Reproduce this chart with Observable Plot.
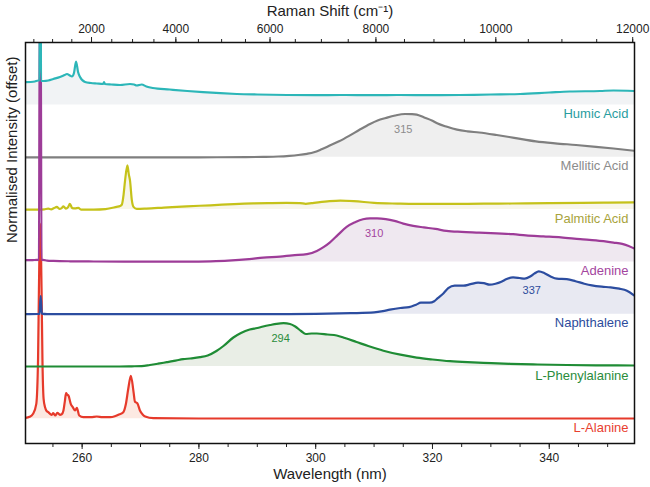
<!DOCTYPE html>
<html><head><meta charset="utf-8">
<script src="https://cdn.jsdelivr.net/npm/d3@7"></script>
<script src="https://cdn.jsdelivr.net/npm/@observablehq/plot@0.6"></script>
<style>
body{margin:0;background:#fff;}
#chart{width:650px;height:487px;}
</style></head><body><div id="chart"></div>
<script>
// ---------- data (wavelength nm, intensity a.u.) ----------
const LASER_NM = 248.6;
const seriesNames = ["L-Alanine","L-Phenylalanine","Naphthalene","Adenine","Palmitic Acid","Mellitic Acid","Humic Acid"];
const lineColors  = ["#e63a2b","#1f8c35","#2c4da0","#9d3c98","#c5c21a","#7f7f7f","#2cb6b8"];
const fillColors  = ["#fce9e2","#e9eee6","#e8e9f2","#efe8f0","#f8f6ea","#efefef","#f1f3f5"];
const labelColors = ["#e8402f","#2a8c3b","#2d4c9c","#a3459e","#a8a33c","#8c8c8c","#2a9d9f"];

const alanine = [[250.3,1],[251,2],[251.6,5],[252.15,15],[252.45,60],[252.6,130],[252.82,195],[253.05,130],[253.2,60],[253.4,20],[253.65,11.6],[253.9,8],[254.2,6.6],[254.5,5],[254.8,4],[255.05,5.6],[255.4,3.3],[255.75,6],[256.2,4],[256.5,4.5],[256.8,8.3],[257.05,18],[257.25,25.6],[257.45,24],[257.65,23.3],[258.05,15],[258.4,11.6],[258.8,8.3],[259.1,11],[259.5,3.3],[260.2,1.6],[261.5,1.6],[262.5,2.3],[263.5,1.6],[264.8,1.6],[265.6,2.5],[266.2,4],[267.05,6.6],[267.5,15],[267.9,30],[268.35,43],[268.8,27],[269.05,17],[269.45,15.6],[269.9,8.3],[270.4,4],[270.8,2.3],[272.2,0.6],[280,0.3],[300,0.3],[320,0.3],[340,0.3],[354.6,0.3]];

const phenylalanine = [[250.3,0],[260,0],[266,0],[268.5,0.2],[270.2,0.4],[271.6,1.5],[273,2.8],[274.5,4.3],[275.5,5.3],[276.5,6.5],[277.3,7.3],[278.5,8],[280.2,9.3],[281.5,11],[283,15.5],[284.2,20.5],[285.9,29],[287.2,33.5],[288.7,37],[290,38.5],[291,40],[292.2,41.5],[293.3,42.7],[294.5,43.3],[295.6,42.5],[296.5,40],[297.5,35.5],[298.3,32.5],[299.3,33],[300.2,33],[302,32],[303.6,31],[305,28.5],[307,24.5],[309,20.5],[311.6,15.8],[314.5,11.8],[317.3,8.9],[320,7],[323,5.3],[326,4.3],[328.7,3.7],[333.3,2.7],[338,2],[343,1.5],[348,1.2],[354.6,1]];

const naphthalene = [[250.3,0],[252.5,0.2],[252.7,0.5],[252.9,18],[253.1,0.5],[254,0],[270,0],[285,0],[293.9,0],[300,0.3],[306,1],[310,1.8],[311.5,3],[312.7,4.5],[314.5,6.2],[316,7],[317.2,9.5],[318,11.5],[319.5,11.5],[320.3,13],[320.9,16],[321.9,21],[322.7,26],[323.8,28.5],[325.3,28.5],[326.5,30],[327.8,31.5],[328.8,31],[329.8,29.5],[330.8,30.5],[331.8,32.5],[332.7,35.2],[333.8,36.8],[334.9,36.2],[335.8,35.5],[336.8,38],[337.5,40.8],[338.2,42.8],[339.2,41],[340.3,37.5],[341.3,35.5],[343,35],[344.5,33],[346,30.5],[347.3,28.8],[349,27.5],[350.5,26.8],[352,25.5],[353.3,23.5],[354.6,18.5]];

const adenine = [[250.3,1.7],[251.5,1.8],[252.2,2],[252.6,2],[252.74,260],[252.9,260],[253.04,2],[253.3,2],[254,1.3],[255.1,1],[258,0.6],[262,0.4],[267.2,0.3],[272,0.3],[277.9,0.3],[282,0.6],[285,1.2],[288.6,2.7],[291,4.3],[293.9,5.3],[296,6.6],[298.5,7.7],[300.2,11],[301.4,15],[302.4,19.3],[303.8,27],[305.3,35],[306.7,39.5],[308.1,42.7],[309.3,43.5],[310.5,43.5],[312,42.8],[313.5,41],[315,38.3],[316.7,36],[318.5,34.5],[320.5,33],[322.4,31],[325,30],[328,29.3],[331,28.5],[333.8,27.7],[336,26.5],[339,25.5],[342,24.5],[345.3,22.7],[348,21.5],[351,19.3],[352.5,18],[353.6,16],[354.6,13.3]];

const palmitic = [[250.3,0],[252.5,0],[253.5,0.3],[254.2,1],[254.7,0.3],[255.2,1.5],[255.65,2.7],[256.1,0.8],[256.5,1.5],[256.8,3.3],[257.2,1],[257.6,2.5],[257.9,5.7],[258.3,1.5],[258.8,1.2],[259.35,1.7],[259.8,0],[262,0],[264,0.5],[265.9,2.7],[266.5,3.5],[266.8,5],[267.1,15],[267.35,29],[267.75,44.3],[268.0,35],[268.2,29],[268.5,10],[268.8,2.7],[269.35,0.7],[271,1],[274,2],[277.9,3.3],[282,4.3],[286,5.5],[289.3,6.2],[292,6.5],[295,6.7],[297.3,6.5],[298.3,5.8],[299.3,6.5],[302,8.2],[304.2,9],[306.5,8.5],[310,6.7],[314,6],[317,5.7],[322,5.7],[326,5.8],[331.3,6],[336,6.2],[340,6.4],[345.6,6.7],[350,7],[354.6,7.3]];

const mellitic = [[250.3,0],[260,0],[270,0],[280,0],[288,0.2],[291,0.4],[293.6,0.8],[295.5,1.5],[297,2.3],[298.5,3.5],[299.7,5],[301,8],[302.4,11.7],[304,16],[305.8,21.7],[307.5,27.5],[309.3,33.3],[310.6,36.8],[312,39.3],[313.6,41.8],[315.3,43.3],[316.5,43.2],[317.3,42.7],[318.5,40],[320,36.5],[320.8,34],[322.5,30.5],[324.2,27.7],[326,26],[328,24.8],[331,22.3],[334,19.5],[337.7,16],[341,14],[344.6,12.3],[348,10.5],[351,8.8],[354.6,6.5]];

const humic = [[250.3,22.8],[251.2,23],[251.9,23.5],[252.5,24.5],[252.7,24.5],[252.79,200],[252.87,200],[252.96,24],[253.4,24],[254.2,24.5],[255.07,26],[256.2,28],[257.0,30],[257.4,31],[257.9,29.5],[258.25,28.5],[258.6,32],[258.96,43.5],[259.3,33],[259.64,28],[260.5,23],[261.5,22],[262.5,21.5],[263.6,21],[263.75,23],[263.9,21],[265,20.5],[266.5,20],[268.2,21],[268.9,20.5],[269.35,19.5],[270.2,20.5],[271,18.5],[272.1,17],[275,15.5],[278,14],[280.7,12.8],[286.5,11],[290,10.5],[295.1,10],[300,9.8],[304.2,10],[310,9.8],[314.4,10],[320,9.8],[324.7,10],[330,10.5],[335,11],[340,12.5],[343.5,13.5],[348.7,14],[351,14.5],[354.6,14]];

const spectra = [alanine, phenylalanine, naphthalene, adenine, palmitic, mellitic, humic];

// peak annotations: series index, peak wavelength label
const peakSeries = [5, 3, 2, 1];
const peakLabels = [315, 310, 337, 294];

const xTicks = [260, 280, 300, 320, 340];
const xMinorTicks = d3.range(255, 355, 5);
const ramanTicks = [2000, 4000, 6000, 8000, 10000, 12000];
const ramanMinorTicks = d3.range(500, 12001, 500);

// ---------- build ----------
const OFFSET = 52.3;
const xDomain = [250.3, 354.6];
const yDomain = [-24.7, 376.3];
const toWl = r => 1e7 / (1e7 / LASER_NM - r);
const toRaman = wl => 1e7 / LASER_NM - 1e7 / wl;

const rows = spectra.map((s, i) => s.map(([wl, v]) => ({wl, v, base: i * OFFSET, top: i * OFFSET + v})));

function valueAt(s, wl) {
  for (let k = 1; k < s.length; k++) {
    if (s[k][0] >= wl) {
      const [x0, y0] = s[k - 1], [x1, y1] = s[k];
      return y0 + (y1 - y0) * (wl - x0) / (x1 - x0);
    }
  }
  return s[s.length - 1][1];
}

const font = "'Liberation Sans', Arial, Helvetica, sans-serif";
const marks = [];
rows.forEach((r, i) => {
  marks.push(Plot.areaY(r, {x: "wl", y1: "base", y2: "top", fill: fillColors[i], curve: "monotone-x", clip: true}));
});
const lineOrder = [0, 1, 2, 4, 5, 3, 6];
lineOrder.forEach(i => {
  marks.push(Plot.lineY(rows[i], {x: "wl", y: "top", stroke: lineColors[i], strokeWidth: 2.2, curve: "monotone-x", clip: true}));
});
seriesNames.forEach((name, i) => {
  marks.push(Plot.text([name], {x: xDomain[1], y: i * OFFSET, dx: -6, dy: 9, textAnchor: "end", fill: labelColors[i], fontSize: 13, lineAnchor: "middle"}));
});
peakLabels.forEach((p, k) => {
  const si = peakSeries[k];
  marks.push(Plot.text([String(p)], {x: p, y: si * OFFSET + valueAt(spectra[si], p), dy: 15, fill: labelColors[si], fontSize: 11, lineAnchor: "middle"}));
});
marks.push(Plot.axisX({anchor: "bottom", ticks: xMinorTicks, tickSize: 4, tickFormat: () => "", label: null, strokeWidth: 1}));
marks.push(Plot.axisX({anchor: "bottom", ticks: xTicks, tickSize: 6, tickPadding: 4, tickFormat: d => String(d), label: null, fontSize: 12, strokeWidth: 1}));
marks.push(Plot.axisX({anchor: "top", ticks: ramanMinorTicks.map(toWl), tickSize: 4, tickFormat: () => "", label: null, strokeWidth: 1}));
marks.push(Plot.axisX({anchor: "top", ticks: ramanTicks.map(toWl), tickSize: 6, tickPadding: 4, tickFormat: d => String(Math.round(toRaman(d) / 100) * 100), label: null, fontSize: 12, strokeWidth: 1}));
marks.push(Plot.frame({stroke: "#111", strokeWidth: 1.5}));
marks.push(Plot.text(["Wavelength (nm)"], {frameAnchor: "bottom", dy: 31, fontSize: 15, lineAnchor: "middle", fill: "#222"}));
marks.push(Plot.text(["Raman Shift (cm\u207B\u00B9)"], {frameAnchor: "top", dy: -31, fontSize: 15, lineAnchor: "middle", fill: "#222"}));
marks.push(Plot.text(["Normalised Intensity (offset)"], {frameAnchor: "left", dx: -13, rotate: -90, fontSize: 15, lineAnchor: "middle", fill: "#222"}));

const chart = Plot.plot({
  width: 650, height: 487,
  marginTop: 42, marginBottom: 44, marginLeft: 25, marginRight: 16,
  x: {domain: xDomain},
  y: {domain: yDomain, axis: null},
  style: {fontFamily: font, background: "#fff", color: "#222", overflow: "visible"},
  marks
});
document.getElementById("chart").appendChild(chart);
</script>
</body></html>
